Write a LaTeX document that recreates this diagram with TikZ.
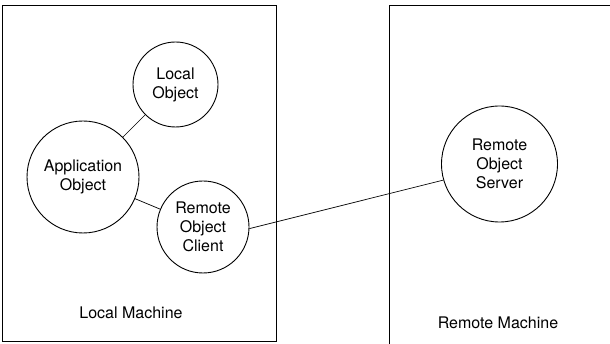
\documentclass[tikz,border=0pt]{standalone}
\usepackage{fontspec}
\setmainfont{TeX Gyre Heros}
\begin{document}
\begin{tikzpicture}[x=1pt,y=-1pt,
  obj/.style={circle,draw,line width=0.9pt,inner sep=0pt,align=center,
    font=\fontsize{16}{19}\selectfont},
  lbl/.style={font=\fontsize{16}{19}\selectfont},
  link/.style={line width=0.7pt},
  frame/.style={line width=0.9pt}]
\useasboundingbox (0,0) rectangle (610,344);
% machines
\draw[frame] (2,5) rectangle (276,341);
\draw[frame] (610,5) -- (389,5) -- (389,344);
\node[lbl] (lm) at (131,313) {Local Machine};
\node[lbl] (rm) at (498,323) {Remote Machine};
% objects
\node[obj,minimum size=85pt] (local) at (175.5,84.5) {Local\\Object};
\node[obj,minimum size=112pt] (app) at (83,177) {Application\\Object};
\node[obj,minimum size=92pt] (client) at (203,227) {Remote\\Object\\Client};
\node[obj,minimum size=116pt] (server) at (499.5,164) {Remote\\Object\\Server};
% connectors
\draw[link] (app) -- (local);
\draw[link] (app) -- (client);
\draw[link] (client.-2) -- (server.196);
\end{tikzpicture}
\end{document}
